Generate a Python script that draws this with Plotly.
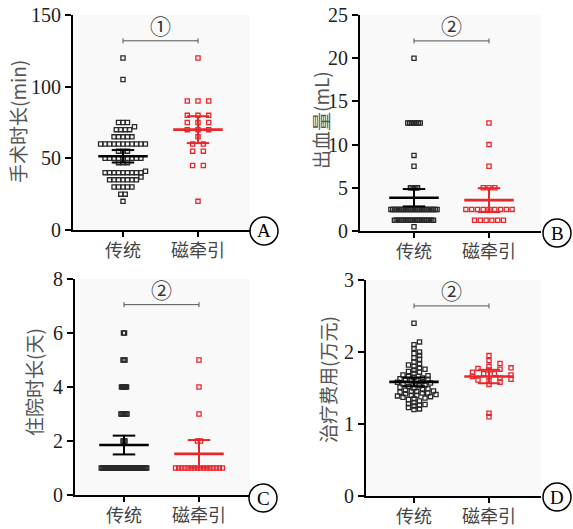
import math
import plotly.graph_objects as go

# ---------------- data ----------------
categories = ["传统", "磁牵引"]

# A: 手术时长(min)
a_trad = ([120, 105] + [75] * 3 + [72] + [70] * 4 + [65] * 5 + [60] * 11 + [55] * 3 +
          [50] * 9 + [47] * 3 + [41] + [40] * 9 + [37] + [35] * 7 + [30] * 5 + [25] * 2 + [20])
a_mag = [120] + [90] * 3 + [80] * 3 + [75] * 3 + [70] * 3 + [65] + [60] * 2 + [55] * 2 + [45] * 2 + [20]

# B: 出血量(mL)
b_trad = [20] + [12.5] * 8 + [8.75, 7.5] + [5] * 5 + [2.5] * 27 + [1.25] * 23 + [0.5]
b_mag = [12.5, 10, 7.5] + [5] * 3 + [2.5] * 9 + [1.25] * 6

# C: 住院时长(天)
c_trad = [6] * 2 + [5] * 3 + [4] * 6 + [3] * 7 + [2] * 3 + [1] * 46
c_mag = [5, 4, 3, 2, 2] + [1] * 16

# D: 治疗费用(万元)
d_trad = [2.40, 2.14, 2.10, 2.05, 2.00, 1.98, 1.95, 1.92, 1.90, 1.86,
          1.83, 1.82, 1.80, 1.78, 1.76, 1.75, 1.73, 1.72, 1.70, 1.68,
          1.67, 1.66, 1.65, 1.64, 1.63, 1.62, 1.61, 1.60, 1.60, 1.59,
          1.58, 1.57, 1.56, 1.55, 1.54, 1.53, 1.52, 1.51, 1.50, 1.49,
          1.48, 1.47, 1.46, 1.45, 1.45, 1.44, 1.43, 1.43, 1.42, 1.41,
          1.40, 1.40, 1.39, 1.38, 1.37, 1.36, 1.35, 1.34, 1.32, 1.30,
          1.28, 1.27, 1.26, 1.25, 1.23, 1.21, 1.20]
d_mag = [1.95, 1.88, 1.84, 1.80, 1.78, 1.77, 1.76, 1.75, 1.72, 1.70, 1.70,
         1.68, 1.66, 1.64, 1.62, 1.61, 1.60, 1.58, 1.55, 1.15, 1.10]

titles = ["手术时长(min)", "出血量(mL)", "住院时长(天)", "治疗费用(万元)"]
y_ranges = [(0, 150), (0, 25), (0, 8), (0, 3)]
y_dticks = [50, 5, 2, 1]
sig_marks = ["①", "②", "②", "②"]
sig_levels = [132, 22, 7.05, 2.64]
panel_letters = ["A", "B", "C", "D"]

# ---------------- layout geometry (pixels) ----------------
W, H = 573, 529
panels = [
    dict(x0=73, x1=250, yt=15, yb=230, c0=123, c1=198, tx=18, ty=122, cx=264, cy=231),
    dict(x0=360, x1=541, yt=15, yb=231, c0=414, c1=489, tx=321, ty=120, cx=557, cy=233),
    dict(x0=75, x1=250, yt=279, yb=495, c0=124, c1=199, tx=33, ty=382, cx=263, cy=498),
    dict(x0=366, x1=541, yt=280, yb=496, c0=414, c1=489, tx=327, ty=380, cx=557, cy=497),
]

BLACK = "#2a2a2a"
RED = "#e8262b"
SERIF = "Liberation Serif, Times New Roman, serif"
CJK = "Noto Sans CJK SC, sans-serif"


def tq(df):
    z = 1.959964
    g1 = (z ** 3 + z) / 4
    g2 = (5 * z ** 5 + 16 * z ** 3 + 3 * z) / 96
    g3 = (3 * z ** 7 + 19 * z ** 5 + 17 * z ** 3 - 15 * z) / 384
    return z + g1 / df + g2 / df ** 2 + g3 / df ** 3


def mean_ci(v):
    n = len(v)
    m = sum(v) / n
    sd = math.sqrt(sum((x - m) ** 2 for x in v) / (n - 1))
    h = tq(n - 1) * sd / math.sqrt(n)
    return m, m - h, m + h


def swarm(vals, ypu, base=10.7, maxext=23.5, sy=3.5):
    """Beeswarm offsets in pixels."""
    counts = {}
    for v in vals:
        counts[v] = counts.get(v, 0) + 1
    uniq = sorted(counts, key=lambda v: (-counts[v], v))
    sp = base
    while True:
        placed = []
        offs = {}
        for v in uniq:
            n = counts[v]
            y = v * ypu
            rel = [(i - (n - 1) / 2) * sp for i in range(n)]
            k = 0
            found = None
            while found is None:
                cands = [0.0] if k == 0 else [k * 0.5, -k * 0.5]
                for c in cands:
                    ok = True
                    for (px, py) in placed:
                        if abs(y - py) < sy:
                            for r in rel:
                                if abs(c + r - px) < sp - 1e-6:
                                    ok = False
                                    break
                        if not ok:
                            break
                    if ok:
                        found = c
                        break
                k += 1
            offs[v] = [found + r for r in rel]
            for r in rel:
                placed.append((found + r, y))
        ext = max(abs(p[0]) for p in placed)
        if ext <= maxext or sp < 0.3:
            break
        sp *= 0.95
    res = []
    used = {v: 0 for v in counts}
    for v in vals:
        res.append(offs[v][used[v]])
        used[v] += 1
    return res


data = [(a_trad, a_mag), (b_trad, b_mag), (c_trad, c_mag), (d_trad, d_mag)]

fig = go.Figure()
layout = dict(
    width=W, height=H, margin=dict(l=0, r=0, t=0, b=0, autoexpand=False),
    paper_bgcolor="white", showlegend=False,
    shapes=[], annotations=[],
)

for pi, (p, (g0, g1)) in enumerate(zip(panels, data)):
    sfx = "" if pi == 0 else str(pi + 1)
    xa, ya = "x" + sfx, "y" + sfx
    xpu = p["c1"] - p["c0"]
    xl = (p["x0"] - p["c0"]) / xpu
    xr = 1 + (p["x1"] - p["c1"]) / xpu
    ylo, yhi = y_ranges[pi]
    ypu = (p["yb"] - p["yt"]) / (yhi - ylo)

    layout["xaxis" + sfx] = dict(
        domain=[p["x0"] / W, p["x1"] / W], range=[xl, xr], anchor=ya, automargin=False,
        tickvals=[0, 1], ticktext=categories, ticks="outside", ticklen=5, tickwidth=1.5,
        tickcolor="black", showline=True, linecolor="black", linewidth=2,
        showgrid=False, zeroline=False, ticklabelstandoff=-2,
        tickfont=dict(family=CJK, size=18, color="#444"),
    )
    layout["yaxis" + sfx] = dict(
        domain=[1 - p["yb"] / H, 1 - p["yt"] / H], range=[ylo, yhi], anchor=xa, automargin=False,
        dtick=y_dticks[pi], ticks="outside", ticklen=6, tickwidth=1.5, tickcolor="black",
        showline=True, linecolor="black", linewidth=2, showgrid=False, zeroline=False,
        tickfont=dict(family=SERIF, size=20, color="#222"),
    )

    for gi, (vals, col) in enumerate([(g0, BLACK), (g1, RED)]):
        offs = swarm(vals, ypu)
        fig.add_trace(go.Scatter(
            x=[gi + o / xpu for o in offs], y=vals, xaxis=xa, yaxis=ya,
            mode="markers", cliponaxis=False,
            marker=dict(symbol="square-open", size=4.2, color=col, line=dict(width=1.3, color=col)),
        ))
    for gi, (vals, col) in enumerate([(g0, "black"), (g1, RED)]):
        m, lo, hi = mean_ci(vals)
        fig.add_trace(go.Scatter(
            x=[gi - 0.33, gi + 0.33], y=[m, m], xaxis=xa, yaxis=ya, mode="lines",
            line=dict(color=col, width=2.6), cliponaxis=False,
        ))
        fig.add_trace(go.Scatter(
            x=[gi - 0.15, gi + 0.15, None, gi - 0.15, gi + 0.15, None, gi, gi],
            y=[lo, lo, None, hi, hi, None, lo, hi], xaxis=xa, yaxis=ya, mode="lines",
            line=dict(color=col, width=2), cliponaxis=False,
        ))

    h = sig_levels[pi]
    d = 2.5 / ypu
    fig.add_trace(go.Scatter(
        x=[0, 0, None, 0, 1, None, 1, 1], y=[h - d, h + d, None, h, h, None, h - d, h + d],
        xaxis=xa, yaxis=ya, mode="lines", line=dict(color="#555", width=1), cliponaxis=False,
    ))
    layout["annotations"].append(dict(
        x=0.5, y=h, xref=xa, yref=ya, text=sig_marks[pi], showarrow=False,
        yanchor="bottom", yshift=-1, font=dict(family=CJK, size=21, color="#333"),
    ))

    layout["annotations"].append(dict(
        x=p["tx"] / W, y=1 - p["ty"] / H, xref="paper", yref="paper", text=titles[pi],
        textangle=-90, showarrow=False, xanchor="center", yanchor="middle",
        font=dict(family=CJK, size=19, color="#555"),
    ))

    r = 14
    layout["shapes"].append(dict(
        type="circle", xref="paper", yref="paper",
        x0=(p["cx"] - r) / W, x1=(p["cx"] + r) / W,
        y0=1 - (p["cy"] + r) / H, y1=1 - (p["cy"] - r) / H,
        line=dict(color="black", width=1.5), fillcolor="white", layer="above",
    ))
    layout["annotations"].append(dict(
        x=p["cx"] / W, y=1 - p["cy"] / H, xref="paper", yref="paper", text=panel_letters[pi],
        showarrow=False, xanchor="center", yanchor="middle",
        font=dict(family=SERIF, size=19, color="black"),
    ))

layout["plot_bgcolor"] = "#f9f9f9"
fig.update_layout(**layout)
fig.write_html(
    "out.html",
    config={"displayModeBar": False},
    post_script="document.body.style.margin='0';document.body.style.overflow='hidden';",
)
